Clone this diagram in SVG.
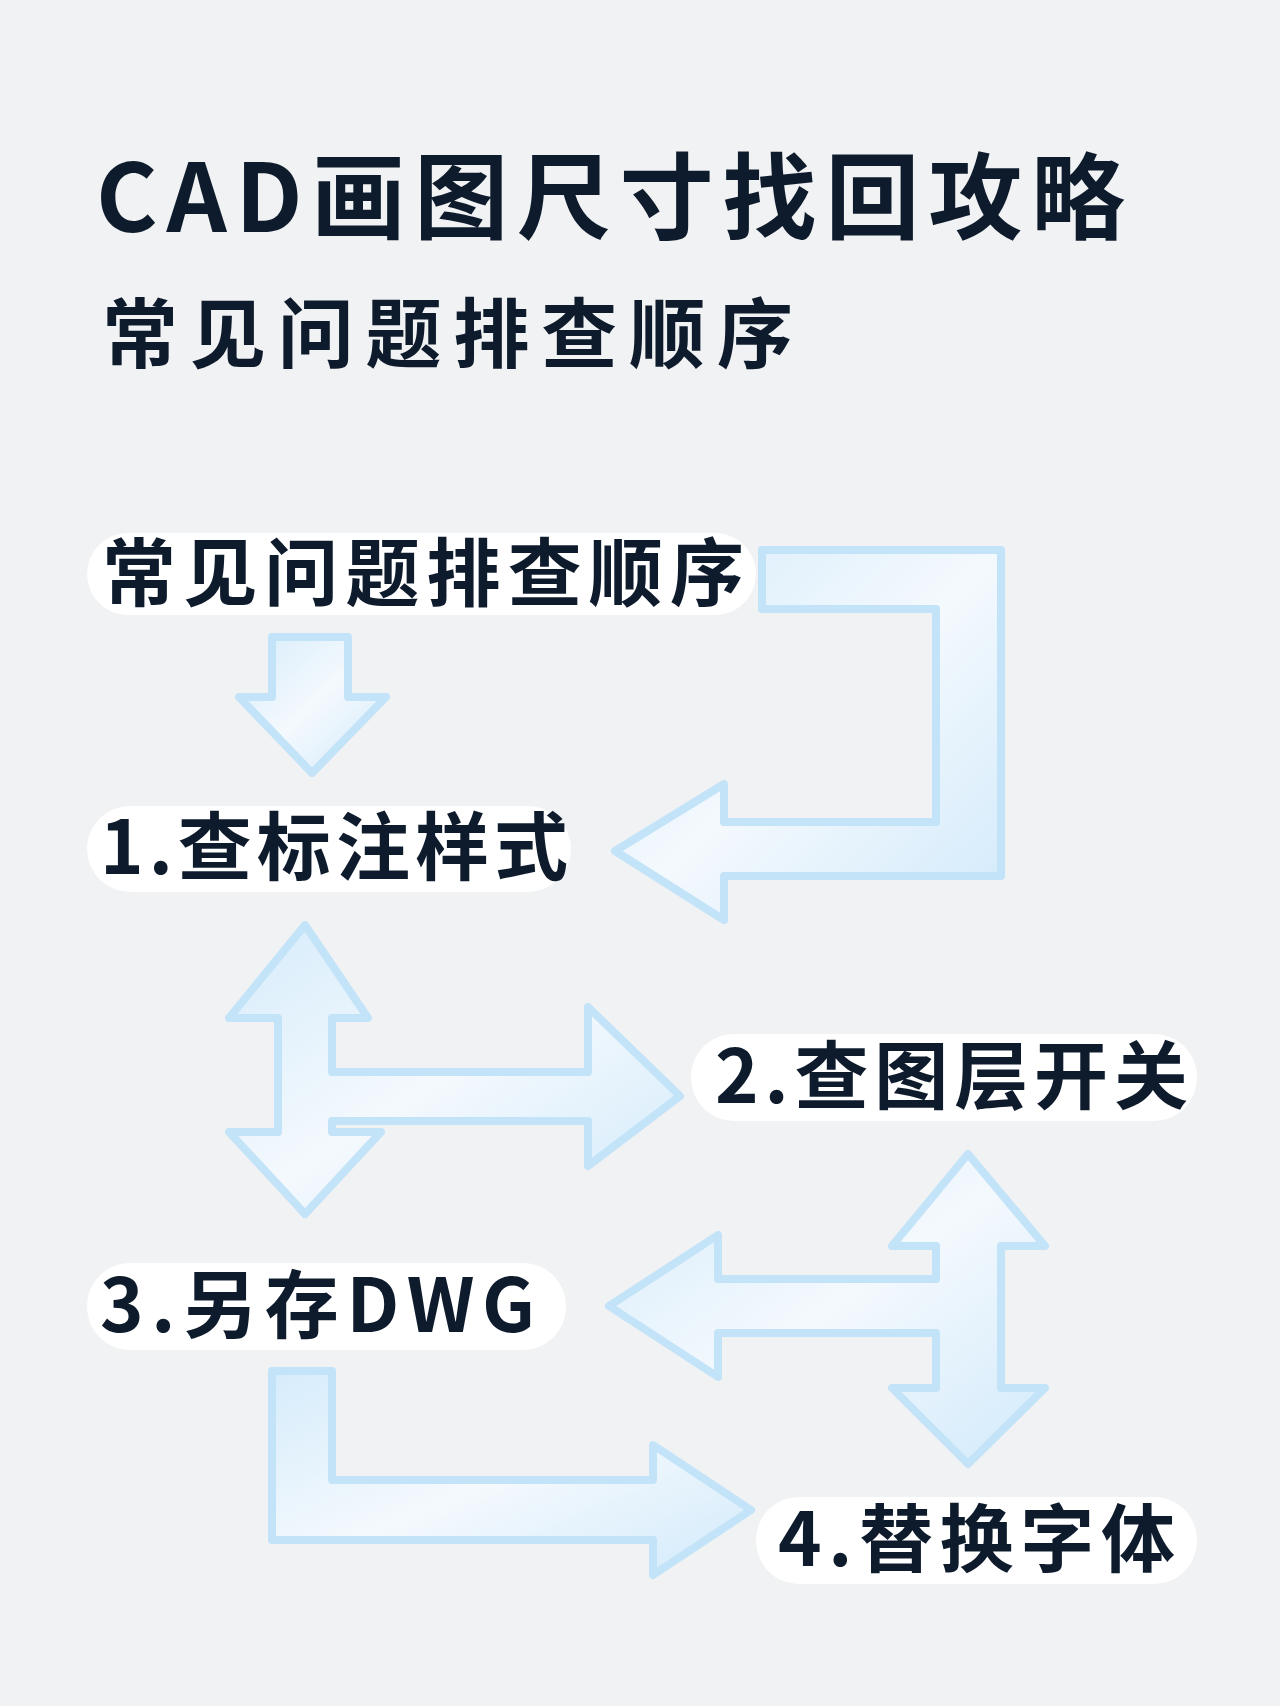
<svg xmlns="http://www.w3.org/2000/svg" width="1280" height="1706" viewBox="0 0 1280 1706">
<defs>
<linearGradient id="g" x1="0" y1="0" x2="1" y2="1">
<stop offset="0" stop-color="#d6ecfb"/><stop offset="0.5" stop-color="#f4f9fd"/><stop offset="1" stop-color="#d2eafb"/>
</linearGradient>
</defs>
<style>
.t{font-family:"Noto Sans CJK SC","Noto Sans",sans-serif;fill:#0e1b2c;font-weight:600}
.pill{fill:#ffffff}
.arr{fill:url(#g);stroke:#c3e3f9;stroke-width:8;stroke-linejoin:round}
</style>
<rect width="1280" height="1706" fill="#f1f2f3"/>
<text class="t" x="96" y="232" font-size="94" textLength="1029" lengthAdjust="spacing">CAD画图尺寸找回攻略</text>
<text class="t" x="102" y="362" font-size="76" textLength="691" lengthAdjust="spacing">常见问题排查顺序</text>
<g id="connectors">
<polygon class="arr" points="272,637 348,637 348,697 386,697 312,773 239,697 272,697" stroke="none" fill="#d3eafb"/>
<polygon class="arr" points="762,550 1001,550 1001,876 724,876 724,920 615,851 724,784 724,822 936,822 936,609 762,609"/>
<polygon class="arr" points="305,925 368,1018 332,1018 332,1072 588,1072 588,1007 680,1096 588,1166 588,1121 332,1121 332,1132 381,1132 305,1214 229,1132 278,1132 278,1018 229,1018"/>
<polygon class="arr" points="968,1154 1045,1246 1001,1246 1001,1388 1045,1388 968,1464 892,1388 936,1388 936,1333 718,1333 718,1377 609,1306 718,1235 718,1279 936,1279 936,1246 892,1246"/>
<polygon class="arr" points="272,1371 332,1371 332,1480 653,1480 653,1445 751,1510 653,1575 653,1540 272,1540"/>
</g>
<g id="n0"><rect class="pill" x="87" y="533" width="669" height="82" rx="41"/><text class="t" x="102" y="600" font-size="74" textLength="642" lengthAdjust="spacing">常见问题排查顺序</text></g>
<g id="n1"><rect class="pill" x="87" y="806" width="484" height="86" rx="43"/><text class="t" x="100" y="874" font-size="74" textLength="468" lengthAdjust="spacing">1.查标注样式</text></g>
<g id="n2"><rect class="pill" x="691" y="1034" width="506" height="87" rx="43"/><text class="t" x="715" y="1103" font-size="74" textLength="473" lengthAdjust="spacing">2.查图层开关</text></g>
<g id="n3"><rect class="pill" x="87" y="1263" width="479" height="87" rx="43"/><text class="t" x="100" y="1332" font-size="74" textLength="435" lengthAdjust="spacing">3.另存DWG</text></g>
<g id="n4"><rect class="pill" x="756" y="1497" width="441" height="87" rx="43"/><text class="t" x="778" y="1566" font-size="74" textLength="397" lengthAdjust="spacing">4.替换字体</text></g>
</svg>
